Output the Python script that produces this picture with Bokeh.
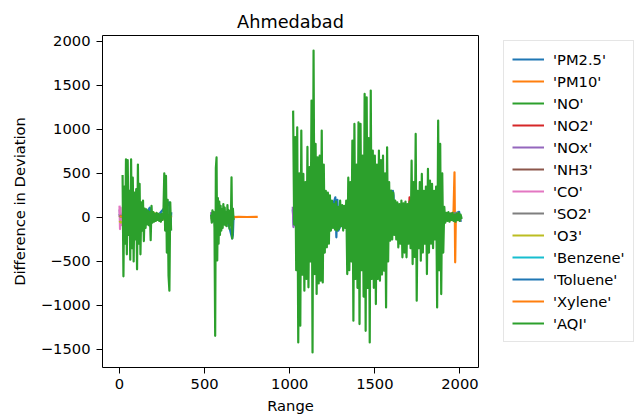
from bokeh.plotting import figure
from bokeh.models import Range1d, FixedTicker, Legend, LegendItem
from bokeh.embed import file_html
from bokeh.resources import INLINE

nan = float("nan")

title_text = "Ahmedabad"
x_label = "Range"
y_label = "Difference in Deviation"
x_ticks = [0, 500, 1000, 1500, 2000]
y_ticks = [-1500, -1000, -500, 0, 500, 1000, 1500, 2000]
y_tick_labels = ["\u22121500", "\u22121000", "\u2212500", "0", "500", "1000", "1500", "2000"]

series_names = ["'PM2.5'", "'PM10'", "'NO'", "'NO2'", "'NOx'", "'NH3'", "'CO'",
                "'SO2'", "'O3'", "'Benzene'", "'Toluene'", "'Xylene'", "'AQI'"]

# ---- minor series (read from the visible edges) ----
pm25_x = [0, 8, 40, 100, 172, 178, 184, 230, 292, 298, 304, nan, 540, 560, 600, 640, 662, 666, 670, nan,
          1018, 1024, 1100, 1200, 1268, 1274, 1280, 1286, 1330, 1450, 1560, 1606, 1610, 1614, 1700, 1800, 1900, 1960, 1995, 2005]
pm25_y = [40, -60, 80, -50, 90, 110, -20, 30, 171, -150, 60, nan, 40, -60, 50, -70, -240, -200, 20, nan,
          90, -90, 150, -200, 228, -227, 200, -150, 60, 200, -150, 300, 250, -60, 80, -100, 40, 30, 63, -51]
pm10_x = [0, 10, 60, 150, 210, 290, 304, nan, 540, 548, 600, 660, nan,
          1020, 1100, 1250, 1400, 1600, 1800, 1930, 1950, 1962, 1968, 1972, 1976, 1985, 1995, 2008]
pm10_y = [20, -30, 60, -40, 30, -50, 20, nan, -20, 30, -50, 40, nan,
          40, -80, 60, -100, 80, -60, 20, -30, 40, 511, -511, 50, -30, 20, 0]
no_x = [5, 100, 200, 300, nan, 545, 660, nan, 1030, 1300, 1600, 1900, 2000]
no_y = [10, -30, 20, -10, nan, 15, -20, nan, 30, -40, 25, -20, 5]
no2_x = [0, 150, 300, nan, 540, 665, nan, 1020, 1300, 1500, 1700, 1704, 1708, 1712, 1900, 2005]
no2_y = [10, -20, 15, nan, -10, 20, nan, 20, -40, 60, 40, 228, 80, -30, 20, -5]
nox_x = [0, 6, 12, 150, 300, nan, 538, 544, 550, 665, nan, 1018, 1022, 1026, 1300, 1600, 1900, 2005]
nox_y = [90, -70, 40, -30, 30, nan, 60, -50, 20, -20, nan, 120, -110, 50, -60, 70, -30, 10]
nh3_x = [0, 150, 300, nan, 540, 665, nan, 1020, 1500, 2005]
nh3_y = [5, -10, 8, nan, 5, -8, nan, 10, -15, 5]
co_x = [0, 3, 6, 9, 12, 150, 300, nan, 540, 665, nan, 1020, 1500, 2005]
co_y = [133, -133, 110, -90, 40, 10, -10, nan, 20, -15, nan, 30, -20, 5]
so2_x = [0, 150, 300, nan, 540, 665, nan, 1020, 1500, 1990, 2000, 2008]
so2_y = [20, -15, 10, nan, -10, 12, nan, 25, -20, 50, -40, 10]
o3_x = [0, 8, 100, 205, 212, 220, 300, nan, 540, 665, nan, 1020, 1500, 2005]
o3_y = [-40, -60, 30, 50, -40, 40, -20, nan, 15, -10, nan, -30, 25, 5]
benzene_x = [0, 150, 300, nan, 540, 665, nan, 1020, 1500, 2005]
benzene_y = [8, -6, 5, nan, 4, -5, nan, 10, -8, 3]
toluene_x = [0, 150, 300, nan, 540, 665, nan, 1020, 1500, 2005]
toluene_y = [15, -20, 25, nan, 10, -15, nan, 40, -30, 10]
xylene_x = [0, 150, 300, nan, 540, 600, 670, 700, 750, 812, nan, 1020, 1500, 1920, 1940, 1955, 1985, 2005]
xylene_y = [10, -5, 8, nan, 5, -5, 3, 5, 4, 6, nan, 10, -10, 30, -40, 50, -30, 10]

# ---- AQI (dominant series) ----
aqi_x1 = list(range(18, 304, 5))
aqi_y1 = [480, -670, 350, -300, 660, -420, 650, -200, 300, -480,
          660, -350, 450, -500, 280, -250, 320, -590, 600, -300,
          380, -420, 170, -150, 190, -270, 100, -120, 90, -80,
          70, -90, 60, -260, 130, -60, 60, -50, 40, -40,
          50, -30, 40, -40, 30, -50, 40, -30, 60, 500,
          -150, 470, -400, 200, -663, -833, 171, -150]
aqi_x2 = list(range(538, 671, 4))
aqi_y2 = [30, -60, 80, -40, 60, -120, -1345, 560, 680, -490,
          220, -300, 180, -200, 130, -150, 90, -120, 150, -80,
          110, -90, 60, -100, 140, -60, 80, -130, 70, -90,
          455, -240, 100, -30]
aqi_x3 = list(range(1020, 2011, 6))
aqi_y3 = [1212, -80, 910, -600, 1023, -1420, 500, -1231, 985, -650,
          493, -833, 400, -700, 800, -795, 570, -500, 1326, -1534,
          1894, -644, 834, -870, 682, -750, 700, -720, 985, -740,
          600, -400, 300, -340, 280, -300, 250, -150, 190, -120,
          150, -140, 180, -150, 120, -130, 190, -100, 140, -150,
          130, -120, 190, -644, 450, -600, 400, -500, 872, -1174,
          1061, -700, 600, -800, 1080, -1212, 1061, -600, 700, -900,
          1402, -1288, 1364, -800, 900, -1420, 1440, -700, 758, -800,
          700, -985, 600, -700, 758, -720, 650, -650, 700, -606,
          500, -1023, 796, -500, 400, -265, 303, -250, 280, -200,
          190, -250, 170, -341, 150, -300, 190, -454, 160, -400,
          180, -454, 150, -300, 180, -350, 644, -530, 400, -450,
          947, -947, 300, -350, 400, -492, 493, -400, 300, -300,
          350, -644, 550, -400, 417, -300, 380, -350, 300, -250,
          350, -1023, 1099, -600, 834, -871, 500, -400, 120, -60,
          50, -40, 60, -50, 40, -30, 50, -40, 30, -50,
          40, -30, 50, -40, 30, -20]
aqi_x = aqi_x1 + [nan] + aqi_x2 + [nan] + aqi_x3
aqi_y = aqi_y1 + [nan] + aqi_y2 + [nan] + aqi_y3

series_x = [pm25_x, pm10_x, no_x, no2_x, nox_x, nh3_x, co_x, so2_x, o3_x, benzene_x, toluene_x, xylene_x, aqi_x]
series_y = [pm25_y, pm10_y, no_y, no2_y, nox_y, nh3_y, co_y, so2_y, o3_y, benzene_y, toluene_y, xylene_y, aqi_y]

colors = ["#1f77b4", "#ff7f0e", "#2ca02c", "#d62728", "#9467bd", "#8c564b", "#e377c2",
          "#7f7f7f", "#bcbd22", "#17becf", "#1f77b4", "#ff7f0e", "#2ca02c"]

FONT = "DejaVu Sans"
TXT = "#000000"

p = figure(frame_width=376, frame_height=332,
           min_border_left=102, min_border_right=158, min_border_top=35, min_border_bottom=52,
           x_range=Range1d(-100, 2109), y_range=Range1d(-1705, 2065),
           output_backend="svg", toolbar_location=None, title=title_text)

p.title.align = "center"
p.title.text_font = FONT
p.title.text_font_size = "17.7px"
p.title.text_font_style = "normal"
p.title.text_color = TXT
p.title.standoff = 7

p.grid.visible = False
p.outline_line_color = "#000000"
p.outline_line_width = 1
p.background_fill_color = "white"
p.border_fill_color = "white"

for ax in (p.xaxis[0], p.yaxis[0]):
    ax.axis_line_color = None
    ax.major_tick_out = 6
    ax.major_tick_in = 0
    ax.minor_tick_out = 0
    ax.minor_tick_in = 0
    ax.major_tick_line_color = "#000000"
    ax.major_label_text_font = FONT
    ax.major_label_text_font_size = "14.7px"
    ax.major_label_text_color = TXT
    ax.axis_label_text_font = FONT
    ax.axis_label_text_font_size = "14.7px"
    ax.axis_label_text_font_style = "normal"
    ax.axis_label_text_color = TXT

p.xaxis[0].ticker = FixedTicker(ticks=x_ticks)
p.yaxis[0].ticker = FixedTicker(ticks=y_ticks)
p.yaxis[0].major_label_overrides = {t: s for t, s in zip(y_ticks, y_tick_labels)}
p.xaxis[0].axis_label = x_label
p.yaxis[0].axis_label = y_label
p.xaxis[0].major_label_standoff = 5
p.yaxis[0].major_label_standoff = 6
p.xaxis[0].axis_label_standoff = 5
p.yaxis[0].axis_label_standoff = 10

items = []
for name, xs, ys, c in zip(series_names, series_x, series_y, colors):
    r = p.line(xs, ys, line_color=c, line_width=2.2, line_join="round")
    items.append(LegendItem(label=name, renderers=[r]))

legend = Legend(items=items, location=(25, 25))
legend.label_text_font = FONT
legend.label_text_font_size = "14.7px"
legend.label_text_color = TXT
legend.glyph_width = 32
legend.glyph_height = 20
legend.label_height = 20
legend.label_standoff = 9
legend.spacing = 2
legend.padding = 8
legend.margin = 0
legend.border_line_color = "#cccccc"
legend.border_line_width = 1
legend.background_fill_color = "white"
legend.background_fill_alpha = 1
p.add_layout(legend, "right")

open("out.html", "w").write(file_html(p, INLINE))
